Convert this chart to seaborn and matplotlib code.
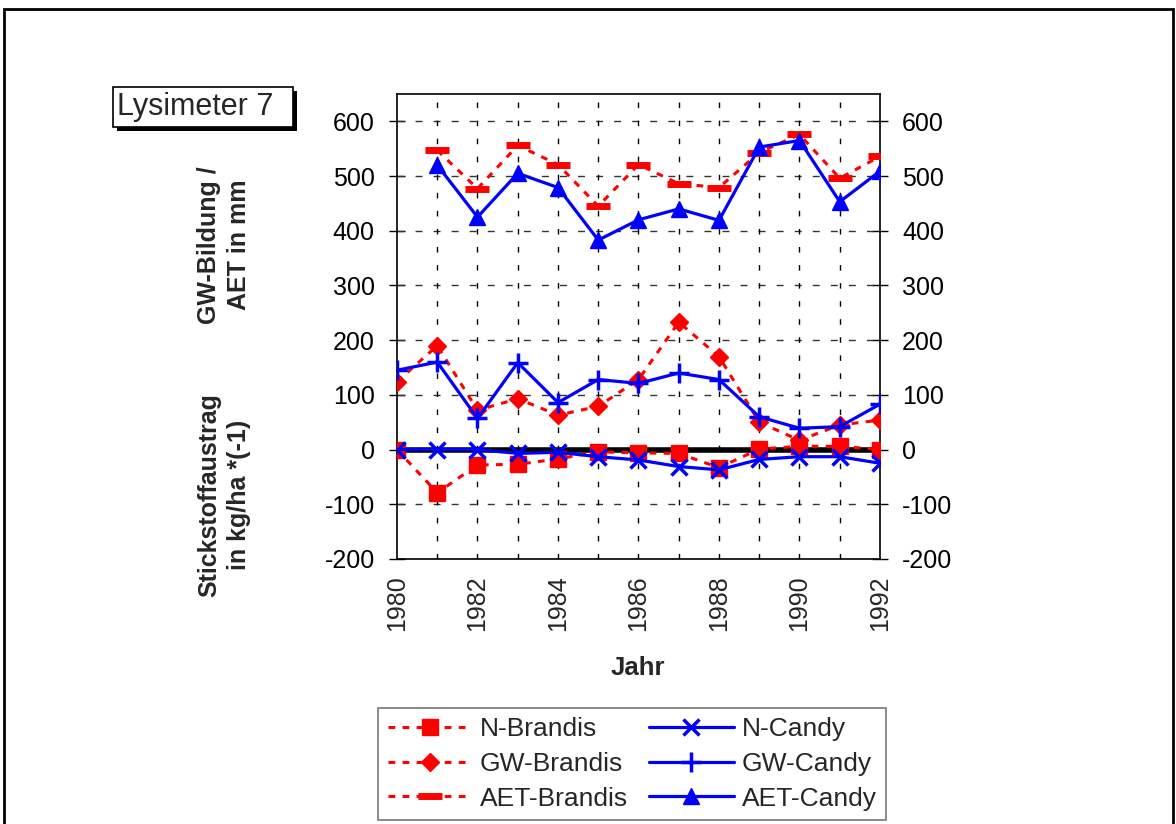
import numpy as np
import matplotlib
matplotlib.use("Agg")
import matplotlib.pyplot as plt
import matplotlib.patches as mpatches
import seaborn as sns

years = [1980, 1981, 1982, 1983, 1984, 1985, 1986, 1987, 1988, 1989, 1990, 1991, 1992]
n_brandis = [0, -79, -28, -27, -17, -4, -6, -7, -33, 1, 6, 6, 0]
gw_brandis = [124, 190, 72, 93, 63, 79, 128, 233, 170, 50, 17, 45, 54]
aet_brandis = [np.nan, 547, 477, 556, 521, 445, 521, 486, 479, 543, 576, 496, 536]
n_candy = [0, 0, 0, -7, -5, -13, -19, -31, -37, -18, -13, -13, -25]
gw_candy = [145, 160, 57, 159, 86, 128, 121, 140, 128, 60, 39, 42, 83]
aet_candy = [np.nan, 520, 425, 505, 479, 383, 420, 440, 419, 553, 565, 453, 509]
y_ticks = [-200, -100, 0, 100, 200, 300, 400, 500, 600]
x_labels = [1980, 1982, 1984, 1986, 1988, 1990, 1992]

sns.set_style("white")
plt.rcParams['font.family'] = ['Liberation Sans', 'DejaVu Sans']

W, H = 1176, 824
FS = 18
fig = plt.figure(figsize=(W / 100, H / 100), dpi=100)
ax = fig.add_axes([397 / W, 1 - 559 / H, (880 - 397) / W, (559 - 94) / H])

RED = '#ff0000'
BLUE = '#0000ff'

# zero line
ax.axhline(0, color='black', lw=4, zorder=2)

def draw(y, label, color, ls, marker, ms, lw, mew=1, z=3):
    yy = np.array(y, dtype=float)
    m = ~np.isnan(yy)
    sns.lineplot(x=np.array(years)[m], y=yy[m], ax=ax, color=color, linestyle=ls,
                 lw=lw, marker=marker, markersize=ms, markeredgecolor=color,
                 markerfacecolor=color, markeredgewidth=mew, label=label, zorder=z)

dash = (0, (2.2, 2.4))
draw(n_brandis, 'N-Brandis', RED, dash, 's', 12, 2.2)
draw(gw_brandis, 'GW-Brandis', RED, dash, 'D', 9, 2.2)
draw(aet_brandis, 'AET-Brandis', RED, dash, '_', 17, 2.2, mew=5)
draw(n_candy, 'N-Candy', BLUE, '-', 'x', 11, 2.3, mew=2.5, z=4)
draw(gw_candy, 'GW-Candy', BLUE, '-', '+', 15, 2.3, mew=2.5, z=4)
draw(aet_candy, 'AET-Candy', BLUE, '-', '^', 12, 2.3, z=4)

ax.set_xlim(1980, 1992)
ax.set_ylim(-200, 650)
ax.set_yticks(y_ticks)
ax.set_yticklabels([str(v) for v in y_ticks], fontsize=FS)
ax.set_xticks(years, minor=True)
ax.set_xticks(x_labels)
ax.set_xticklabels([str(v) for v in x_labels], rotation=90, fontsize=FS)
ax.tick_params(axis='y', which='both', direction='inout', length=12, width=1,
               left=True, right=True, labelleft=True, labelright=True, pad=10, colors='black')
ax.tick_params(axis='x', which='both', direction='in', length=0, pad=12)
for s in ax.spines.values():
    s.set_color('black')
    s.set_linewidth(1.2)

# grid
for v in y_ticks:
    ax.axhline(v, color='#333333', lw=1, ls=(0, (5, 8)), zorder=1)
for yr in years[1:-1]:
    ax.axvline(yr, color='black', lw=1, ls=(0, (4, 9)), zorder=1)

ax.set_xlabel('')
ax.set_ylabel('')

fig.text(638 / W, 1 - 668 / H, 'Jahr', fontsize=FS + 0.5, fontweight='bold', ha='center', va='center')
fig.text(224 / W, 1 - 245 / H, 'GW-Bildung /\nAET in mm', fontsize=FS, fontweight='bold',
         rotation=90, ha='center', va='center', multialignment='center', linespacing=1.3)
fig.text(224 / W, 1 - 495 / H, 'Stickstoffaustrag\nin kg/ha *(-1)', fontsize=FS, fontweight='bold',
         rotation=90, ha='center', va='center', multialignment='center', linespacing=1.3)

# outer border
fig.patches.append(mpatches.Rectangle((4 / W, -0.1), (1173 - 4) / W, 1.1 - 9 / H,
                                      transform=fig.transFigure, fill=False,
                                      edgecolor='black', lw=2, zorder=0))
# Lysimeter box with shadow
fig.patches.append(mpatches.Rectangle((117 / W, 1 - 131 / H), 180 / W, 40 / H,
                                      transform=fig.transFigure, facecolor='black',
                                      edgecolor='black', lw=0, zorder=1))
fig.patches.append(mpatches.Rectangle((113 / W, 1 - 127 / H), 180 / W, 40 / H,
                                      transform=fig.transFigure, facecolor='white',
                                      edgecolor='black', lw=1.2, zorder=2))
fig.text(117 / W, 1 - 107 / H, 'Lysimeter 7', fontsize=22, ha='left', va='center', zorder=3)

handles, labels = ax.get_legend_handles_labels()
if ax.get_legend():
    ax.get_legend().remove()
leg = fig.legend(handles, labels, ncol=2, loc='center', bbox_to_anchor=(632 / W, 1 - 764 / H),
                 fontsize=19, frameon=True, fancybox=False, edgecolor='#555555',
                 handlelength=3.2, columnspacing=0.8, labelspacing=0.4, borderpad=0.35,
                 handletextpad=0.3, borderaxespad=0)
leg.get_frame().set_linewidth(1.2)

fig.savefig('out.png', dpi=100, facecolor='white')
